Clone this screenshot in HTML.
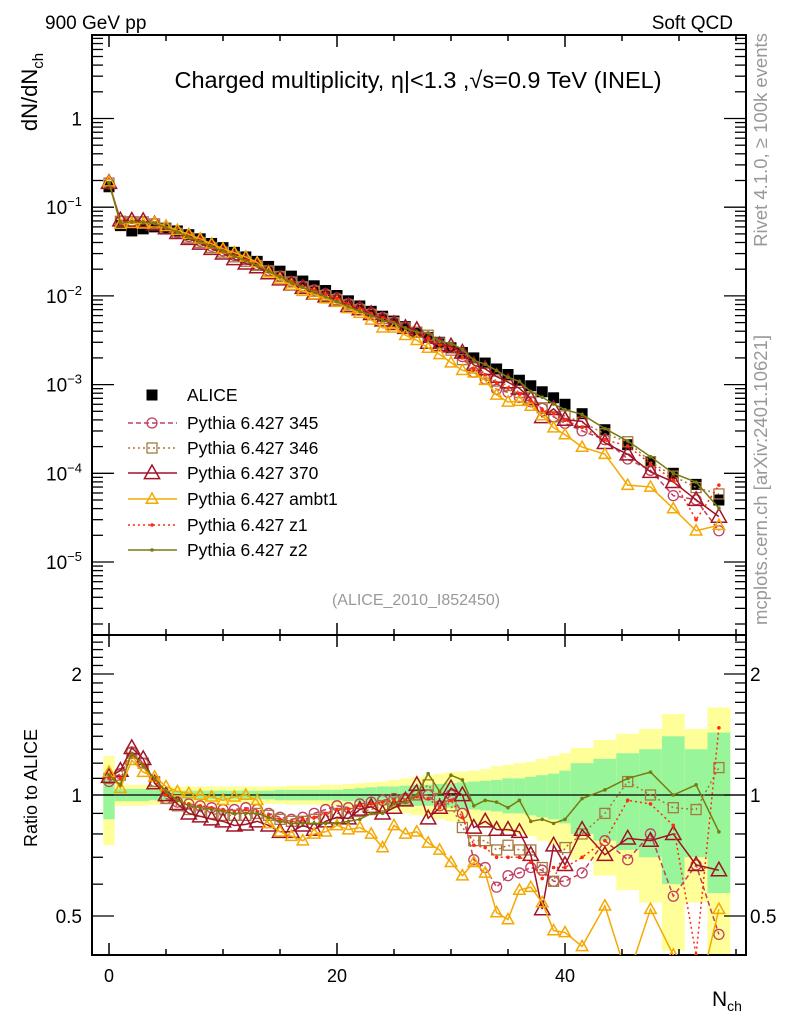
<!DOCTYPE html>
<html><head><meta charset="utf-8"><style>
body{margin:0;background:#fff;}
svg{display:block;font-family:"Liberation Sans",sans-serif;}
</style></head><body>
<svg id="chart" width="786" height="1024" viewBox="0 0 786 1024" xmlns="http://www.w3.org/2000/svg">
<defs>
<clipPath id="clipMain"><rect x="92" y="35" width="654" height="600"/></clipPath>
<clipPath id="clipRatio"><rect x="92" y="635" width="654" height="320"/></clipPath>
</defs>
<g id="bands" clip-path="url(#clipRatio)"></g>
<g id="axes"></g>
<g id="mainPlot" clip-path="url(#clipMain)"></g>
<g id="ratioPlot" clip-path="url(#clipRatio)"></g>
<g id="legend"></g>
<text x="45" y="29" font-size="19">900 GeV pp</text>
<text x="733" y="29" font-size="19" text-anchor="end">Soft QCD</text>
<text x="418" y="88" font-size="23.5" text-anchor="middle">Charged multiplicity, η|&lt;1.3 ,√s=0.9 TeV (INEL)</text>
<text x="416" y="605" font-size="16" fill="#999" text-anchor="middle">(ALICE_2010_I852450)</text>
<text transform="translate(37,92) rotate(-90)" font-size="22" text-anchor="middle">dN/dN<tspan font-size="15" dy="6">ch</tspan></text>
<text transform="translate(37,788) rotate(-90)" font-size="18" text-anchor="middle">Ratio to ALICE</text>
<text transform="translate(767,140) rotate(-90)" font-size="18.5" fill="#999" text-anchor="middle">Rivet 4.1.0, ≥ 100k events</text>
<text transform="translate(767,480) rotate(-90)" font-size="18.5" fill="#999" text-anchor="middle">mcplots.cern.ch [arXiv:2401.10621]</text>
<text x="712" y="1006" font-size="21">N<tspan font-size="14" dy="5">ch</tspan></text>
</svg>
<script>
// ---- data ----
const nch = [0,1,2,3,4,5,6,7,8,9,10,11,12,13,14,15,16,17,18,19,20,21,22,23,24,25,26,27,28,29,30,31,32,33,34,35,36,37,38,39,40,41.5,43.5,45.5,47.5,49.5,51.5,53.5];
const alice = [0.17,0.062,0.054,0.057,0.06,0.058,0.054,0.049,0.044,0.039,0.035,0.031,0.0275,0.0245,0.0215,0.019,0.0167,0.0147,0.013,0.0115,0.0101,0.0088,0.0077,0.0067,0.0059,0.0052,0.0045,0.0039,0.0034,0.003,0.0026,0.0023,0.002,0.00175,0.0015,0.0013,0.00112,0.00097,0.00083,0.00071,0.0006,0.00047,0.00031,0.00021,0.000135,0.0001,0.000075,0.00005];
const r345 = [1.08,1.13,1.28,1.2,1.08,0.98,0.96,0.95,0.94,0.93,0.92,0.92,0.93,0.92,0.9,0.88,0.87,0.88,0.9,0.92,0.94,0.93,0.95,0.96,0.97,0.98,0.98,1.0,1.0,0.94,1.0,0.9,0.69,0.66,0.59,0.63,0.64,0.66,0.65,0.61,0.61,0.64,0.77,0.69,0.8,0.56,0.67,0.45];
const r346 = [1.1,1.12,1.27,1.2,1.08,0.98,0.94,0.92,0.91,0.9,0.89,0.89,0.89,0.9,0.89,0.87,0.86,0.86,0.87,0.88,0.9,0.9,0.91,0.92,0.94,0.96,0.97,1.0,1.06,0.98,0.94,0.83,0.77,0.77,0.73,0.75,0.73,0.73,0.66,0.61,0.74,0.8,0.9,1.08,1.0,0.93,0.92,1.17];
const r370 = [1.11,1.15,1.31,1.23,1.07,1.0,0.95,0.9,0.885,0.87,0.86,0.84,0.845,0.86,0.84,0.81,0.81,0.84,0.82,0.86,0.88,0.875,0.92,0.935,0.9,0.93,0.97,1.06,0.875,0.93,1.04,1.0,0.83,0.86,0.82,0.82,0.81,0.71,0.52,0.75,0.67,0.82,0.71,0.78,0.77,0.8,0.67,0.65];
const rAmbt1 = [1.14,1.04,1.22,1.14,1.11,1.05,1.02,1.01,1.0,0.99,0.97,0.99,1.0,0.97,0.85,0.81,0.79,0.77,0.8,0.81,0.84,0.82,0.83,0.8,0.74,0.84,0.8,0.81,0.76,0.73,0.68,0.63,0.68,0.64,0.51,0.49,0.58,0.59,0.54,0.46,0.455,0.42,0.53,0.35,0.52,0.4,0.3,0.52];
const rZ1 = [1.1,1.1,1.26,1.19,1.09,1.0,0.97,0.95,0.94,0.93,0.92,0.91,0.92,0.91,0.89,0.87,0.86,0.87,0.88,0.9,0.92,0.92,0.94,0.95,0.96,0.97,0.97,0.99,0.98,0.93,0.97,0.88,0.75,0.74,0.7,0.7,0.7,0.68,0.62,0.66,0.66,0.7,0.77,0.97,0.95,0.84,0.4,1.47];
const rZ2 = [1.12,1.06,1.27,1.18,1.1,1.02,0.97,0.94,0.93,0.92,0.91,0.9,0.9,0.9,0.88,0.86,0.85,0.85,0.85,0.85,0.85,0.86,0.87,0.9,0.9,0.95,0.96,1.0,1.13,1.02,1.12,1.09,0.94,0.97,0.96,0.93,0.97,0.86,0.87,0.85,0.87,0.98,1.03,1.1,1.14,1.0,1.06,0.81];
const bandYellow = [0.25,0.06,0.06,0.06,0.055,0.05,0.05,0.05,0.05,0.05,0.05,0.05,0.05,0.05,0.05,0.05,0.055,0.055,0.055,0.06,0.06,0.065,0.07,0.075,0.08,0.09,0.1,0.11,0.12,0.13,0.14,0.145,0.15,0.16,0.18,0.19,0.2,0.21,0.23,0.25,0.27,0.31,0.37,0.42,0.46,0.59,0.46,0.65];
const bandGreen = [0.13,0.035,0.035,0.035,0.03,0.03,0.025,0.025,0.025,0.025,0.025,0.025,0.025,0.025,0.025,0.03,0.03,0.03,0.03,0.03,0.03,0.035,0.04,0.045,0.05,0.05,0.055,0.06,0.06,0.065,0.07,0.075,0.08,0.085,0.09,0.1,0.1,0.11,0.12,0.13,0.15,0.2,0.23,0.27,0.3,0.4,0.3,0.43];
const binHalf = [0.5,0.5,0.5,0.5,0.5,0.5,0.5,0.5,0.5,0.5,0.5,0.5,0.5,0.5,0.5,0.5,0.5,0.5,0.5,0.5,0.5,0.5,0.5,0.5,0.5,0.5,0.5,0.5,0.5,0.5,0.5,0.5,0.5,0.5,0.5,0.5,0.5,0.5,0.5,0.5,0.5,1,1,1,1,1,1,1];
const xTicks = [0,20,40];
const mainTickExp = [0,-1,-2,-3,-4,-5];
const ratioTickLabels = [0.5,1,2];

// ---- axis functions ----
const NS="http://www.w3.org/2000/svg";
const X0=92,X1=746,YT=35,YM=635,YB=955;
const xs = n => 109 + 11.4*n;
const ym = v => 118.5 - 88.7*Math.log10(v);
const yr = r => 795 - 402*Math.log10(r);
function mk(tag,attrs,parent){const e=document.createElementNS(NS,tag);for(const k in attrs)e.setAttribute(k,attrs[k]);parent.appendChild(e);return e;}
const axes=document.getElementById('axes');
const mainG=document.getElementById('mainPlot');
const ratioG=document.getElementById('ratioPlot');
const bandsG=document.getElementById('bands');
const legG=document.getElementById('legend');

// bands
for(let i=0;i<nch.length;i++){
  const xa=xs(nch[i]-binHalf[i]), xb=xs(nch[i]+binHalf[i]);
  const y1=yr(1+bandYellow[i]), y2=yr(Math.max(0.01,1-bandYellow[i]));
  const b=mk('rect',{x:xa,y:y1,width:xb-xa,height:y2-y1,fill:'#ffff99'},bandsG);
  
  
  const g1=yr(1+bandGreen[i]), g2=yr(1-bandGreen[i]);
  const g=mk('rect',{x:xa,y:g1,width:xb-xa,height:g2-g1,fill:'#99f599'},bandsG);
  
  
}
const one=mk('line',{x1:X0,x2:X1,y1:yr(1),y2:yr(1),stroke:'#000','stroke-width':1.2},bandsG);



// frames
[[YT,YM],[YM,YB]].forEach(([a,b])=>{
  const f=mk('rect',{x:X0,y:a,width:X1-X0,height:b-a,fill:'none',stroke:'#000','stroke-width':2},axes);
  
  
});
// x ticks
for(let n=0;n<=55;n+=5){
  const L=(n%20===0)?12:6;
  [[YT,1],[YM,-1],[YM,1],[YB,-1]].forEach(([y,d])=>{
    mk('line',{x1:xs(n),x2:xs(n),y1:y,y2:y+d*L,stroke:'#000','stroke-width':1.5},axes);
  });
}
xTicks.forEach(n=>{
  const t=mk('text',{x:xs(n),y:982,'font-size':18,'text-anchor':'middle'},axes);
  t.textContent=n;
  
  
});
// main y ticks
for(let e=1;e>=-6;e--){
  for(let m=1;m<10;m++){
    const v=m*Math.pow(10,e); const y=ym(v);
    if(y<YT||y>YM) continue;
    const L=m===1?22:11;
    mk('line',{x1:X0,x2:X0+L,y1:y,y2:y,stroke:'#000','stroke-width':1.3},axes);
    mk('line',{x1:X1,x2:X1-L,y1:y,y2:y,stroke:'#000','stroke-width':1.3},axes);
  }
}
mainTickExp.forEach(e=>{
  const t=mk('text',{x:82,y:ym(Math.pow(10,e))+7,'font-size':19,'text-anchor':'end'},axes);
  
  
  if(e===0){t.textContent='1';}
  else{t.textContent='10';const s=document.createElementNS(NS,'tspan');s.setAttribute('dy','-8');s.setAttribute('font-size','13');s.textContent='−'+(-e);t.appendChild(s);}
});
// ratio ticks
const rt=[0.4,0.5,0.6,0.7,0.8,0.9,1,1.1,1.2,1.3,1.4,1.5,1.6,1.7,1.8,1.9,2,2.1,2.2,2.3,2.4];
rt.forEach(r=>{
  const y=yr(r); if(y<YM||y>YB) return;
  const L=(r===0.5||r===1||r===2)?22:11;
  mk('line',{x1:X0,x2:X0+L,y1:y,y2:y,stroke:'#000','stroke-width':1.3},axes);
  mk('line',{x1:X1,x2:X1-L,y1:y,y2:y,stroke:'#000','stroke-width':1.3},axes);
});
ratioTickLabels.forEach(r=>{
  const t=mk('text',{x:82,y:yr(r)+7,'font-size':19,'text-anchor':'end'},axes);
  t.textContent=r;
  
  
  const t2=mk('text',{x:750,y:yr(r)+7,'font-size':19},axes);
  t2.textContent=r;
  
  
});

// markers
function marker(kind,x,y,col,g,sz){
  if(kind==='circle') return mk('circle',{cx:x,cy:y,r:5,fill:'none',stroke:col,'stroke-width':1.3},g);
  if(kind==='square') return mk('rect',{x:x-5,y:y-5,width:10,height:10,fill:'none',stroke:col,'stroke-width':1.3},g);
  if(kind==='tri'){const s=sz||7;return mk('polygon',{points:`${x},${y-s} ${x-s*0.95},${y+s*0.7} ${x+s*0.95},${y+s*0.7}`,fill:'none',stroke:col,'stroke-width':1.5},g);}
  if(kind==='dot') return mk('circle',{cx:x,cy:y,r:1.8,fill:col},g);
  if(kind==='fsq') return mk('rect',{x:x-5.5,y:y-5.5,width:11,height:11,fill:'#000'},g);
}
const series=[
 {name:'Pythia 6.427 345',r:r345,col:'#c04060',dash:'5,3',m:'circle'},
 {name:'Pythia 6.427 346',r:r346,col:'#a8783c',dash:'2,3',m:'square'},
 {name:'Pythia 6.427 370',r:r370,col:'#a01428',dash:'',m:'tri',sz:8},
 {name:'Pythia 6.427 ambt1',r:rAmbt1,col:'#f5a800',dash:'',m:'tri',sz:6},
 {name:'Pythia 6.427 z1',r:rZ1,col:'#ff2a10',dash:'2,3',m:'dot'},
 {name:'Pythia 6.427 z2',r:rZ2,col:'#7a7a10',dash:'',m:'dot'}
];
// ALICE data
nch.forEach((n,i)=>{
  const s=marker('fsq',xs(n),ym(alice[i]),'#000',mainG);
  
  
});
series.forEach(S=>{
  const ptsM=nch.map((n,i)=>`${xs(n)},${ym(alice[i]*S.r[i])}`).join(' ');
  const ptsR=nch.map((n,i)=>`${xs(n)},${yr(S.r[i])}`).join(' ');
  const l1=mk('polyline',{points:ptsM,fill:'none',stroke:S.col,'stroke-width':1.5,'stroke-dasharray':S.dash},mainG);
  
  
  const l2=mk('polyline',{points:ptsR,fill:'none',stroke:S.col,'stroke-width':1.5,'stroke-dasharray':S.dash},ratioG);
  
  
  nch.forEach((n,i)=>{
    const a=marker(S.m,xs(n),ym(alice[i]*S.r[i]),S.col,mainG,S.sz);
    
    
    const b=marker(S.m,xs(n),yr(S.r[i]),S.col,ratioG,S.sz);
    
    
  });
});
// legend
const ly=[395,423,448,473,499,525,550];
const e0=marker('fsq',152,ly[0],'#000',legG);


const t0=mk('text',{x:187,y:ly[0]+6,'font-size':17.5},legG);
t0.textContent='ALICE';


series.forEach((S,k)=>{
  const y=ly[k+1];
  mk('line',{x1:128,x2:177,y1:y,y2:y,stroke:S.col,'stroke-width':1.5,'stroke-dasharray':S.dash},legG);
  const m=marker(S.m,152,y,S.col,legG,S.sz);
  
  
  const t=mk('text',{x:187,y:y+6,'font-size':17.5},legG);
  t.textContent=S.name;
  
  
});
</script>
</body></html>
